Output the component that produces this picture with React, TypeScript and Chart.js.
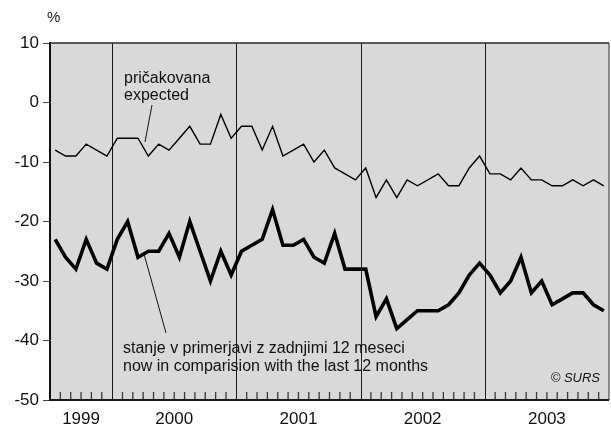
import React, { useEffect, useRef } from 'react';
import { Chart, registerables } from 'chart.js';

Chart.register(...registerables);

const months = [
  '1999-07', '1999-08', '1999-09', '1999-10', '1999-11', '1999-12',
  '2000-01', '2000-02', '2000-03', '2000-04', '2000-05', '2000-06',
  '2000-07', '2000-08', '2000-09', '2000-10', '2000-11', '2000-12',
  '2001-01', '2001-02', '2001-03', '2001-04', '2001-05', '2001-06',
  '2001-07', '2001-08', '2001-09', '2001-10', '2001-11', '2001-12',
  '2002-01', '2002-02', '2002-03', '2002-04', '2002-05', '2002-06',
  '2002-07', '2002-08', '2002-09', '2002-10', '2002-11', '2002-12',
  '2003-01', '2003-02', '2003-03', '2003-04', '2003-05', '2003-06',
  '2003-07', '2003-08', '2003-09', '2003-10', '2003-11', '2003-12',
];

const yearLabels = ['1999', '2000', '2001', '2002', '2003'];

// "pričakovana / expected"
const expected = [
  -8, -9, -9, -7, -8, -9,
  -6, -6, -6, -9, -7, -8, -6, -4, -7, -7, -2, -6,
  -4, -4, -8, -4, -9, -8, -7, -10, -8, -11, -12, -13,
  -11, -16, -13, -16, -13, -14, -13, -12, -14, -14, -11, -9,
  -12, -12, -13, -11, -13, -13, -14, -14, -13, -14, -13, -14,
];

// "stanje v primerjavi z zadnjimi 12 meseci / now in comparision with the last 12 months"
const current = [
  -23, -26, -28, -23, -27, -28,
  -23, -20, -26, -25, -25, -22, -26, -20, -25, -30, -25, -29,
  -25, -24, -23, -18, -24, -24, -23, -26, -27, -22, -28, -28,
  -28, -36, -33, -38, -36.5, -35, -35, -35, -34, -32, -29, -27,
  -29, -32, -30, -26, -32, -30, -34, -33, -32, -32, -34, -35,
];

const yMin = -50;
const yMax = 10;
const yStep = 10;

const FONT = '"Liberation Sans", Arial, Helvetica, sans-serif';

const decorPlugin = {
  id: 'decor',
  beforeDraw(chart: any) {
    const { ctx, chartArea } = chart;
    ctx.save();
    ctx.fillStyle = '#d9d9d9';
    ctx.fillRect(chartArea.left, chartArea.top, chartArea.right - chartArea.left, chartArea.bottom - chartArea.top);
    ctx.restore();
  },
  beforeDatasetsDraw(chart: any) {
    const { ctx, chartArea } = chart;
    const x = chart.scales.x;
    const n = months.length;
    const half = (x.getPixelForValue(1) - x.getPixelForValue(0)) / 2;
    ctx.save();
    for (let i = 1; i < n; i++) {
      const bx = (x.getPixelForValue(i - 1) + x.getPixelForValue(i)) / 2;
      const isYear = months[i].endsWith('-01');
      ctx.beginPath();
      if (isYear) {
        ctx.strokeStyle = '#1a1a1a';
        ctx.lineWidth = 1;
        const px = Math.round(bx) + 0.5;
        ctx.moveTo(px, chartArea.top);
        ctx.lineTo(px, chartArea.bottom);
      } else {
        ctx.strokeStyle = '#3a3a3a';
        ctx.lineWidth = 1.3;
        ctx.moveTo(bx, chartArea.bottom - 8);
        ctx.lineTo(bx, chartArea.bottom);
      }
      ctx.stroke();
    }
    // top border
    ctx.strokeStyle = '#2a2a2a';
    ctx.lineWidth = 1.5;
    ctx.beginPath();
    ctx.moveTo(chartArea.left, chartArea.top);
    ctx.lineTo(chartArea.right, chartArea.top);
    ctx.stroke();
    // right border
    ctx.lineWidth = 1;
    ctx.beginPath();
    const rx = x.getPixelForValue(n - 1) + half;
    ctx.moveTo(rx, chartArea.top);
    ctx.lineTo(rx, chartArea.bottom);
    ctx.stroke();
    // bottom axis
    ctx.strokeStyle = '#1a1a1a';
    ctx.lineWidth = 2;
    ctx.beginPath();
    ctx.moveTo(chartArea.left, chartArea.bottom);
    ctx.lineTo(chartArea.right, chartArea.bottom);
    ctx.stroke();
    ctx.restore();
  },
  afterDraw(chart: any) {
    const { ctx, chartArea } = chart;
    const x = chart.scales.x;
    ctx.save();
    ctx.fillStyle = '#111';
    // year labels centred under each year's months
    ctx.font = `17px ${FONT}`;
    ctx.textAlign = 'center';
    ctx.textBaseline = 'middle';
    yearLabels.forEach((yr) => {
      const idx = months.map((m, i) => (m.startsWith(yr) ? i : -1)).filter((i) => i >= 0);
      const first = idx[0];
      const last = idx[idx.length - 1];
      const half = (x.getPixelForValue(1) - x.getPixelForValue(0)) / 2;
      const cx = (x.getPixelForValue(first) - half + x.getPixelForValue(last) + half) / 2;
      ctx.fillText(yr, cx, chartArea.bottom + 19);
    });
    // unit
    ctx.font = `15px ${FONT}`;
    ctx.textAlign = 'left';
    ctx.fillText('%', 47, 18);
    // annotations
    ctx.font = `16px ${FONT}`;
    ctx.textBaseline = 'alphabetic';
    ctx.fillText('pričakovana', 124, 83);
    ctx.fillText('expected', 124, 100);
    ctx.fillText('stanje v primerjavi z zadnjimi 12 meseci', 123, 353);
    ctx.fillText('now in comparision with the last 12 months', 123, 371);
    ctx.strokeStyle = '#111';
    ctx.lineWidth = 1;
    ctx.beginPath();
    ctx.moveTo(152, 105);
    ctx.lineTo(145, 142);
    ctx.moveTo(144, 254);
    ctx.lineTo(166, 333);
    ctx.stroke();
    // copyright
    ctx.font = `italic 13px ${FONT}`;
    ctx.textAlign = 'right';
    ctx.fillText('© SURS', 600, 382);
    ctx.restore();
  },
};

export default function App() {
  const ref = useRef<HTMLCanvasElement | null>(null);
  useEffect(() => {
    if (!ref.current) return;
    const chart = new Chart(ref.current, {
      type: 'line',
      data: {
        labels: months,
        datasets: [
          {
            label: 'pričakovana / expected',
            data: expected,
            borderColor: '#000',
            borderWidth: 1.4,
            pointRadius: 0,
            tension: 0,
            fill: false,
            borderJoinStyle: 'miter',
          },
          {
            label: 'stanje v primerjavi z zadnjimi 12 meseci',
            data: current,
            borderColor: '#000',
            borderWidth: 3.6,
            pointRadius: 0,
            tension: 0,
            fill: false,
            borderJoinStyle: 'miter',
          },
        ],
      },
      options: {
        responsive: false,
        animation: false,
        devicePixelRatio: 1,
        layout: { padding: { top: 43, bottom: 32, left: 0, right: 2 } },
        plugins: {
          legend: { display: false },
          tooltip: { enabled: false },
          title: { display: false },
        },
        scales: {
          x: {
            type: 'category',
            offset: true,
            display: false,
          },
          y: {
            min: yMin,
            max: yMax,
            afterFit: (scale: any) => {
              scale.width = 50;
            },
            ticks: {
              stepSize: yStep,
              color: '#111',
              font: { family: FONT, size: 17 },
              padding: 4,
            },
            grid: {
              drawOnChartArea: false,
              drawTicks: true,
              tickLength: 7,
              color: '#444',
              lineWidth: 1,
            },
            border: { display: true, color: '#111', width: 2 },
          },
        },
      },
      plugins: [decorPlugin],
    });
    return () => chart.destroy();
  }, []);
  return (
    <div style={{ position: 'absolute', left: 0, top: 0, width: 611, height: 432, background: '#fff' }}>
      <canvas ref={ref} width={611} height={432} />
    </div>
  );
}
